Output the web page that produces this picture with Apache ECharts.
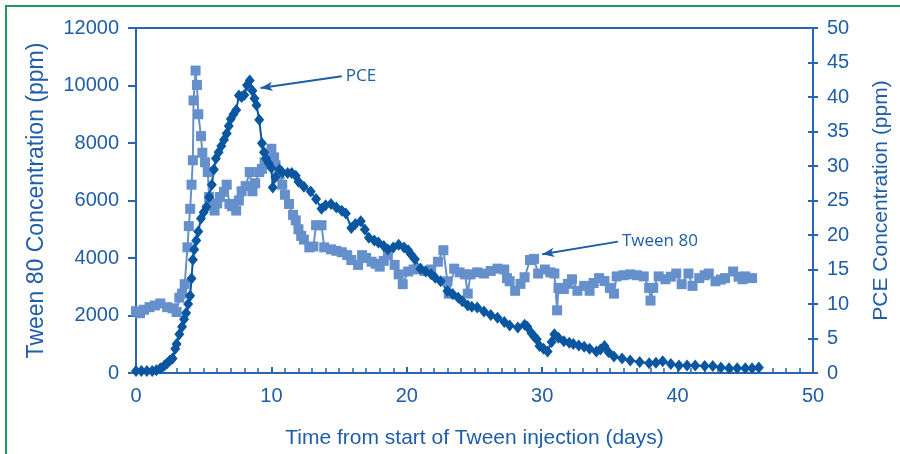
<!DOCTYPE html>
<html>
<head>
<meta charset="utf-8">
<script src="https://cdn.jsdelivr.net/npm/echarts@6/dist/echarts.min.js"></script>
<style>
  html, body { margin: 0; padding: 0; background: #fff; }
  .frame {
    position: absolute; left: 5px; top: 5px; width: 910px; height: 470px;
    border-top: 2px solid #1f9a5c; border-left: 2px solid #1f9a5c;
  }
  #chart { position: absolute; left: 0; top: 0; width: 900px; height: 454px; }
</style>
</head>
<body>
<div class="frame"></div>
<div id="chart"></div>
<script>
// days since start of Tween injection
const tweenDays = [0.0, 0.3, 0.6, 1.0, 1.4, 1.8, 2.3, 2.7, 3.0, 3.2, 3.4, 3.6, 3.8, 3.9, 4.0, 4.1, 4.2, 4.25, 4.4, 4.5,
  4.6, 4.8, 4.9, 5.1, 5.3, 5.4, 5.6, 5.8, 6.0, 6.2, 6.5, 6.7, 6.9, 7.1, 7.4, 7.6, 7.8, 8.1, 8.4, 8.6,
  8.8, 9.1, 9.3, 9.5, 9.8, 10.0, 10.2, 10.3, 10.6, 10.8, 11.0, 11.3, 11.6, 11.8, 12.0, 12.2, 12.4, 12.8, 13.1, 13.3,
  13.7, 13.9, 14.4, 14.8, 15.2, 15.6, 15.9, 16.4, 16.7, 17.0, 17.4, 17.7, 18.0, 18.3, 18.6, 19.1, 19.4, 19.7, 20.1, 20.5,
  20.8, 21.3, 21.8, 22.3, 22.7, 23.0, 23.1, 23.5, 23.9, 24.3, 24.5, 24.7, 25.2, 25.7, 26.2, 26.7, 27.2, 27.4, 27.6, 28.0,
  28.4, 28.7, 29.1, 29.4, 29.7, 30.2, 30.6, 30.9, 31.1, 31.2, 31.6, 31.9, 32.2, 32.6, 33.1, 33.5, 33.8, 34.2, 34.6, 35.0,
  35.3, 35.5, 36.0, 36.5, 37.0, 37.5, 37.9, 38.0, 38.2, 38.6, 39.1, 39.5, 39.9, 40.3, 40.8, 41.1, 41.6, 42.0, 42.3, 42.8,
  43.2, 43.5, 44.1, 44.5, 44.8, 45.0, 45.5];
const tweenPpm = [2150, 2080, 2200, 2290, 2350, 2420, 2290, 2250, 2120, 2620, 2760, 3090, 4370, 5110, 5710, 6550, 7400, 9480, 10520, 10020,
  9000, 8240, 7660, 7330, 6990, 6120, 5800, 5650, 5900, 6120, 6300, 6550, 5880, 5800, 5650, 6000, 6320, 6500, 6990, 6320,
  6600, 6990, 7100, 7330, 7600, 7800, 7500, 7230, 6900, 6550, 6200, 5880, 5500, 5310, 5000, 4770, 4640, 4370, 4400, 5140,
  5140, 4370, 4300, 4250, 4200, 4100, 3930, 3760, 4100, 4000, 3870, 3800, 3700, 3900, 4100, 3760, 3430, 3090, 3530, 3600,
  3630, 3550, 3600, 3870, 4270, 3190, 2760, 3630, 3500, 3430, 2760, 3430, 3500, 3460, 3550, 3630, 3600, 3300, 3190, 2860,
  3100, 3330, 3930, 3970, 3460, 3600, 3500, 3460, 2180, 2960, 2920, 3100, 3260, 2860, 3030, 2860, 3130, 3300, 3200, 2960,
  2760, 3360, 3400, 3430, 3400, 3360, 2960, 2520, 2960, 3360, 3260, 3350, 3460, 3090, 3460, 3030, 3300, 3400, 3460, 3190,
  3250, 3300, 3530, 3350, 3260, 3360, 3300];

const pceDays = [0.0, 0.4, 0.8, 1.2, 1.5, 1.8, 2.1, 2.3, 2.5, 2.7, 2.9, 3.0, 3.2, 3.4, 3.55, 3.7, 3.85, 4.0, 4.1, 4.2,
  4.3, 4.45, 4.6, 4.8, 5.0, 5.2, 5.4, 5.6, 5.75, 5.9, 6.1, 6.3, 6.5, 6.7, 6.85, 7.0, 7.2, 7.4, 7.6, 7.8,
  8.0, 8.2, 8.4, 8.6, 8.75, 8.9, 9.1, 9.3, 9.45, 9.6, 9.8, 10.0, 10.1, 10.3, 10.6, 10.8, 11.2, 11.5, 11.8, 12.0,
  12.4, 12.9, 13.3, 13.7, 14.0, 14.4, 14.8, 15.2, 15.5, 15.9, 16.2, 16.6, 16.9, 17.2, 17.6, 17.9, 18.3, 18.6, 19.0, 19.4,
  19.8, 20.1, 20.3, 20.6, 21.0, 21.4, 21.8, 22.1, 22.5, 23.0, 23.4, 23.8, 24.1, 24.5, 24.8, 25.2, 25.7, 26.2, 26.7, 27.2,
  27.6, 28.2, 28.7, 28.9, 29.2, 29.4, 29.6, 29.8, 30.1, 30.4, 30.7, 30.9, 31.2, 31.6, 32.0, 32.3, 32.7, 33.1, 33.5, 34.0,
  34.3, 34.6, 34.9, 35.3, 35.9, 36.5, 37.2, 37.9, 38.4, 38.9, 39.5, 40.1, 40.7, 41.3, 42.0, 42.6, 43.2, 43.8, 44.4, 45.0,
  45.5, 46.0];
const pcePpm = [0.3, 0.3, 0.3, 0.3, 0.4, 0.7, 1.1, 1.4, 1.8, 2.1, 3.5, 4.2, 5.6, 6.7, 7.8, 8.7, 10.0, 11.2, 13.7, 16.4,
  17.9, 19.2, 20.5, 22.4, 23.3, 24.1, 25.5, 27.3, 29.5, 31.1, 32.0, 32.9, 33.8, 34.7, 35.8, 36.8, 37.5, 38.1, 40.2, 40.0,
  40.3, 41.7, 42.4, 40.9, 39.8, 38.8, 36.7, 33.3, 32.0, 31.1, 30.4, 29.7, 26.9, 28.4, 29.5, 29.1, 29.0, 29.0, 28.6, 27.7,
  27.0, 26.3, 25.2, 23.8, 24.3, 24.5, 24.0, 23.5, 23.1, 21.0, 21.6, 22.0, 20.8, 19.6, 19.2, 18.9, 18.4, 17.9, 18.2, 18.6,
  18.2, 17.8, 17.2, 16.5, 15.1, 14.7, 14.3, 13.8, 13.3, 11.9, 11.4, 10.9, 10.4, 9.8, 9.6, 9.5, 8.9, 8.4, 8.0, 7.4,
  6.9, 6.6, 7.0, 6.7, 5.8, 5.3, 4.9, 3.9, 3.5, 3.1, 4.5, 5.6, 5.1, 4.6, 4.4, 4.2, 4.0, 3.8, 3.5, 3.1,
  3.4, 3.9, 3.0, 2.4, 2.1, 1.8, 1.6, 1.4, 1.5, 1.7, 1.3, 1.1, 1.1, 1.1, 1.0, 1.0, 0.8, 0.7, 0.7, 0.7,
  0.7, 0.8];

// annotation arrows: [day, value] start -> end
const pceArrow = [[15.2, 43.0], [9.2, 41.3]];
const tweenArrow = [[35.6, 4570], [30.0, 4130]];

const textColor = '#1f5da6';
const axisColor = '#2a66ae';
const tweenColor = '#6690cb';
const pceColor = '#0a56a0';
const font = 'Liberation Sans, Arial, sans-serif';

const chart = echarts.init(document.getElementById('chart'));

const zip = (xs, ys) => xs.map((x, i) => [x, ys[i]]);

const option = {
  animation: false,
  grid: { left: 136, right: 82, top: 28, bottom: 69, show: true, borderColor: axisColor, borderWidth: 2 },
  xAxis: {
    type: 'value', min: 0, max: 50, interval: 10,
    name: 'Time from start of Tween injection (days)',
    nameLocation: 'middle', nameGap: 55,
    nameTextStyle: { color: textColor, fontSize: 21, fontFamily: font },
    axisLine: { show: true, onZero: false, lineStyle: { color: axisColor, width: 2 } },
    axisTick: { show: true, inside: true, length: 6, lineStyle: { color: axisColor, width: 2 } },
    minorTick: { show: true, splitNumber: 10, length: 5, lineStyle: { color: axisColor, width: 1.5 } },
    axisLabel: { color: textColor, fontSize: 20, fontFamily: font, margin: 13 },
    splitLine: { show: false }
  },
  yAxis: [
    {
      type: 'value', min: 0, max: 12000, interval: 2000, position: 'left',
      name: 'Tween 80 Concentration (ppm)',
      nameLocation: 'middle', nameGap: 88, nameRotate: 90,
      nameTextStyle: { color: textColor, fontSize: 23, fontFamily: font },
      axisLine: { show: true, lineStyle: { color: axisColor, width: 2 } },
      axisTick: { show: true, length: 8, lineStyle: { color: axisColor, width: 2 } },
      axisLabel: { color: textColor, fontSize: 20, fontFamily: font, margin: 17, formatter: v => String(v) },
      splitLine: { show: false }
    },
    {
      type: 'value', min: 0, max: 50, interval: 5, position: 'right',
      name: 'PCE Concentration (ppm)',
      nameLocation: 'middle', nameGap: 58, nameRotate: 90,
      nameTextStyle: { color: textColor, fontSize: 21, fontFamily: font },
      axisLine: { show: true, lineStyle: { color: axisColor, width: 2 } },
      axisTick: { show: true, length: 5, lineStyle: { color: axisColor, width: 2 } },
      axisLabel: { color: textColor, fontSize: 20, fontFamily: font, margin: 14 },
      splitLine: { show: false }
    },
    {
      // inner half of the crossing ticks on the right axis
      type: 'value', min: 0, max: 50, interval: 5, position: 'right',
      axisLine: { show: false },
      axisTick: { show: true, inside: true, length: 5, lineStyle: { color: axisColor, width: 2 } },
      axisLabel: { show: false },
      splitLine: { show: false }
    }
  ],
  series: [
    {
      name: 'Tween 80', type: 'line', yAxisIndex: 0,
      data: zip(tweenDays, tweenPpm),
      symbol: 'rect', symbolSize: 10, showAllSymbol: true,
      lineStyle: { color: tweenColor, width: 2 },
      itemStyle: { color: tweenColor },
      markLine: {
        silent: true, symbol: ['none', 'arrow'], symbolSize: [7, 12],
        lineStyle: { color: textColor, width: 2, type: 'solid' },
        label: { show: true, position: 'start', formatter: 'Tween 80', color: textColor, fontSize: 17, fontFamily: 'Open Sans, sans-serif', distance: 4 },
        data: [[{ coord: tweenArrow[0] }, { coord: tweenArrow[1] }]]
      }
    },
    {
      name: 'PCE', type: 'line', yAxisIndex: 1,
      data: zip(pceDays, pcePpm),
      symbol: 'diamond', symbolSize: [10, 12], showAllSymbol: true,
      lineStyle: { color: pceColor, width: 2 },
      itemStyle: { color: pceColor },
      markLine: {
        silent: true, symbol: ['none', 'arrow'], symbolSize: [7, 12],
        lineStyle: { color: textColor, width: 2, type: 'solid' },
        label: { show: true, position: 'start', formatter: 'PCE', color: textColor, fontSize: 17, fontFamily: 'Open Sans, sans-serif', distance: 4 },
        data: [[{ coord: pceArrow[0] }, { coord: pceArrow[1] }]]
      }
    }
  ]
};

chart.setOption(option);
</script>
</body>
</html>
